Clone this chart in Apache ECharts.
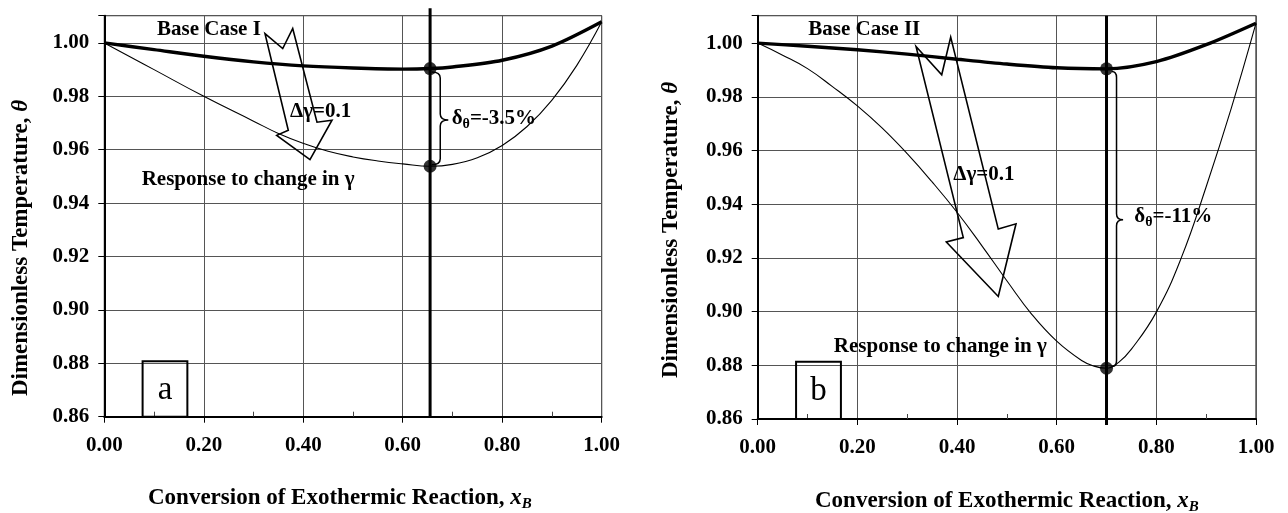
<!DOCTYPE html>
<html>
<head>
<meta charset="utf-8">
<script src="https://cdn.jsdelivr.net/npm/echarts@6/dist/echarts.min.js"></script>
<style>
  html, body { margin: 0; padding: 0; background: #fff; }
  #chart { width: 1288px; height: 513px; }
</style>
</head>
<body>
<div id="chart"></div>
<script>
// ---- data: conversion x_B versus dimensionless temperature theta ----
const baseCaseI = [[0, 1.0], [0.1, 0.9975], [0.2, 0.9950], [0.3, 0.9929], [0.4, 0.9914], [0.5, 0.9906],
  [0.6, 0.9902], [0.655, 0.9904], [0.7, 0.9910], [0.8, 0.9935], [0.9, 0.9988], [1.0, 1.0079]];
const responseI = [[0, 1.0], [0.1, 0.9900], [0.2, 0.9800], [0.3, 0.9707], [0.35, 0.9661], [0.4, 0.9624],
  [0.45, 0.9594], [0.5, 0.9573], [0.55, 0.9558], [0.6, 0.9547], [0.655, 0.9538], [0.7, 0.9545],
  [0.75, 0.9570], [0.8, 0.9616], [0.85, 0.9687], [0.9, 0.9786], [0.95, 0.9916], [1.0, 1.0079]];
const baseCaseII = [[0, 1.0], [0.1, 0.9988], [0.2, 0.9975], [0.3, 0.9959], [0.4, 0.9940], [0.5, 0.9922],
  [0.6, 0.9908], [0.7, 0.9904], [0.8, 0.9931], [0.9, 0.9994], [1.0, 1.0074]];
const responseII = [[0, 1.0], [0.05, 0.9955], [0.1, 0.9905], [0.15, 0.9838], [0.2, 0.9766], [0.25, 0.9683],
  [0.3, 0.9588], [0.35, 0.9483], [0.4, 0.9370], [0.45, 0.9245], [0.5, 0.9115], [0.55, 0.8990],
  [0.6, 0.8890], [0.65, 0.8818], [0.675, 0.8797], [0.7, 0.8789], [0.725, 0.8812], [0.75, 0.8860],
  [0.8, 0.8998], [0.85, 0.9200], [0.9, 0.9465], [0.95, 0.9755], [1.0, 1.0074]];

// operating conversion and the two temperatures marked on it
const operatingI = 0.655;
const markedI = [0.9904, 0.9538];
const operatingII = 0.70;
const markedII = [0.9904, 0.8789];

// axis ranges
const xRange = [0, 1];
const xStep = 0.2;
const yRange = [0.86, 1.0102];
const yStep = 0.02;

// ---- annotation geometry in data units ----
const arrowI = [[0.3231, 1.0035], [0.3587, 0.9979], [0.3788, 1.0054], [0.4276, 0.9703],
  [0.4578, 0.97105], [0.4135, 0.9563], [0.3466, 0.9654], [0.3699, 0.9673]];
const arrowII = [[0.3177, 0.99873], [0.3693, 0.98819], [0.3873, 1.00223], [0.4828, 0.93073],
  [0.5184, 0.93270], [0.4828, 0.90562], [0.3785, 0.92592], [0.4126, 0.92756]];

const FONT = '"Liberation Serif", "Times New Roman", serif';
const richSub = {
  s: { fontFamily: FONT, fontWeight: 'bold', fontSize: 14, padding: [12, 0, 0, 0], fill: '#000' }
};

const notesI = [
  { kind: 'text', at: [0.106, 1.0051], text: 'Base Case I', align: 'left' },
  { kind: 'arrow', pts: arrowI },
  { kind: 'text', at: [0.3733, 0.9744], text: 'Δγ=0.1', align: 'left' },
  { kind: 'brace', top: [0.6582, 0.9891], bottom: [0.6582, 0.9544], spine: 0.6754, tip: [0.6916, 0.9711] },
  { kind: 'text', at: [0.6984, 0.9718], text: 'δ{s|θ}=-3.5%', align: 'left' },
  { kind: 'text', at: [0.0752, 0.9490], text: 'Response to change in γ', align: 'left' },
  { kind: 'box', from: [0.077, 0.86], to: [0.167, 0.8808], label: 'a' }
];
const notesII = [
  { kind: 'text', at: [0.1015, 1.00495], text: 'Base Case II', align: 'left' },
  { kind: 'arrow', pts: arrowII },
  { kind: 'text', at: [0.3925, 0.95095], text: 'Δγ=0.1', align: 'left' },
  { kind: 'brace', top: [0.7104, 0.98942], bottom: [0.7104, 0.87955], spine: 0.7201, tip: [0.7333, 0.93425] },
  { kind: 'text', at: [0.7558, 0.93542], text: 'δ{s|θ}=-11%', align: 'left' },
  { kind: 'text', at: [0.58, 0.8870], text: 'Response to change in γ', align: 'right' },
  { kind: 'box', from: [0.077, 0.86], to: [0.167, 0.8813], label: 'b' }
];

function noteRenderer(notes) {
  return function (params, api) {
    const n = notes[params.dataIndex];
    if (n.kind === 'text') {
      const p = api.coord(n.at);
      return {
        type: 'text', x: p[0], y: p[1], z2: 10,
        style: {
          text: n.text, fill: '#000', fontFamily: FONT, fontWeight: 'bold', fontSize: 21,
          align: n.align, verticalAlign: 'middle', rich: richSub
        }
      };
    }
    if (n.kind === 'arrow') {
      return {
        type: 'polygon',
        shape: { points: n.pts.map(q => api.coord(q)) },
        style: { fill: 'none', stroke: '#000', lineWidth: 1.6, lineJoin: 'miter' }
      };
    }
    if (n.kind === 'brace') {
      const t = api.coord(n.top), b = api.coord(n.bottom), m = api.coord(n.tip);
      const x1 = api.coord([n.spine, n.tip[1]])[0];
      const r = 6;
      const d = `M${t[0]} ${t[1]} Q${x1} ${t[1]} ${x1} ${t[1] + r} L${x1} ${m[1] - r} ` +
        `Q${x1} ${m[1]} ${m[0]} ${m[1]} Q${x1} ${m[1]} ${x1} ${m[1] + r} L${x1} ${b[1] - r} ` +
        `Q${x1} ${b[1]} ${b[0]} ${b[1]}`;
      return { type: 'path', shape: { pathData: d }, style: { fill: 'none', stroke: '#000', lineWidth: 1.5 } };
    }
    if (n.kind === 'box') {
      const a = api.coord(n.from), c = api.coord(n.to);
      const x = Math.min(a[0], c[0]), y = Math.min(a[1], c[1]);
      const w = Math.abs(c[0] - a[0]), h = Math.abs(c[1] - a[1]);
      return {
        type: 'group',
        children: [
          { type: 'rect', shape: { x, y, width: w, height: h }, style: { fill: 'none', stroke: '#000', lineWidth: 2 } },
          {
            type: 'text', x: x + w / 2, y: y + h / 2 + 1,
            style: { text: n.label, fill: '#000', fontFamily: FONT, fontSize: 33, align: 'center', verticalAlign: 'middle' }
          }
        ]
      };
    }
    return null;
  };
}

function xAxisFor(gridIndex) {
  return {
    gridIndex, type: 'value', min: xRange[0], max: xRange[1], interval: xStep,
    axisLine: { lineStyle: { color: '#000', width: 2 } },
    axisTick: { show: true, length: 6, lineStyle: { color: '#000', width: 1 } },
    minorTick: { show: true, splitNumber: 2, length: -5, lineStyle: { color: '#444', width: 1 } },
    splitLine: { show: true, lineStyle: { color: '#555', width: 1 } },
    axisLabel: {
      formatter: v => v.toFixed(2), color: '#000', fontFamily: FONT, fontWeight: 'bold',
      fontSize: 21, margin: 18
    }
  };
}
function yAxisFor(gridIndex) {
  return {
    gridIndex, type: 'value', min: yRange[0], max: yRange[1], interval: yStep,
    axisLine: { show: true, lineStyle: { color: '#000', width: 2 } },
    axisTick: { show: true, length: 6, lineStyle: { color: '#000', width: 1 } },
    splitLine: { show: true, lineStyle: { color: '#555', width: 1 } },
    axisLabel: {
      formatter: v => {
        const k = v / yStep;
        return Math.abs(k - Math.round(k)) < 1e-6 ? v.toFixed(2) : '';
      },
      color: '#000', fontFamily: FONT, fontWeight: 'bold', fontSize: 21, margin: 15
    }
  };
}

function panelSeries(idx, base, resp, xOp, marked, lineSpan, notes) {
  return [
    {
      type: 'line', xAxisIndex: idx, yAxisIndex: idx, data: base, smooth: 0.3,
      showSymbol: false, symbol: 'none', z: 3, lineStyle: { color: '#000', width: 3.4 }
    },
    {
      type: 'line', xAxisIndex: idx, yAxisIndex: idx, data: resp, smooth: 0.45,
      showSymbol: false, symbol: 'none', z: 3, lineStyle: { color: '#000', width: 1.1 }
    },
    {
      type: 'line', xAxisIndex: idx, yAxisIndex: idx, clip: false,
      data: [[xOp, lineSpan[0]], [xOp, lineSpan[1]]],
      showSymbol: false, symbol: 'none', z: 4, lineStyle: { color: '#000', width: 3 }
    },
    {
      type: 'scatter', xAxisIndex: idx, yAxisIndex: idx, z: 5,
      data: marked.map(t => [xOp, t]), symbol: 'circle', symbolSize: 13,
      itemStyle: { color: '#000' }
    },
    {
      type: 'custom', xAxisIndex: idx, yAxisIndex: idx, z: 6, clip: false,
      data: notes.map(n => n.at || n.top || n.from || n.pts[0]),
      renderItem: noteRenderer(notes)
    }
  ];
}

const yTitle = 'Dimensionless Temperature, {i|θ}';
const xTitle = 'Conversion of Exothermic Reaction, {i|x}{b|B}';
const titleRich = {
  i: { fontFamily: FONT, fontWeight: 'bold', fontStyle: 'italic', fontSize: 23, fill: '#000' },
  b: { fontFamily: FONT, fontWeight: 'bold', fontStyle: 'italic', fontSize: 15, padding: [12, 0, 0, 0], fill: '#000' }
};
function titleText(text, x, y, rot, align) {
  return {
    type: 'text', x, y, rotation: rot,
    style: {
      text, fill: '#000', fontFamily: FONT, fontWeight: 'bold', fontSize: 23,
      align, verticalAlign: 'middle', rich: titleRich
    }
  };
}

const chart = echarts.init(document.getElementById('chart'), null, { renderer: 'canvas' });
chart.setOption({
  backgroundColor: '#fff',
  animation: false,
  grid: [
    { left: 104.3, top: 15.7, width: 497.4, height: 401, show: true, borderColor: '#000', borderWidth: 1, backgroundColor: 'transparent' },
    { left: 757.7, top: 15.7, width: 498.3, height: 403.3, show: true, borderColor: '#000', borderWidth: 1, backgroundColor: 'transparent' }
  ],
  xAxis: [xAxisFor(0), xAxisFor(1)],
  yAxis: [yAxisFor(0), yAxisFor(1)],
  series: [
    ...panelSeries(0, baseCaseI, responseI, operatingI, markedI, [0.86, 1.013], notesI),
    ...panelSeries(1, baseCaseII, responseII, operatingII, markedII, [0.8578, 1.0102], notesII)
  ],
  graphic: [
    titleText(yTitle, 21, 248, Math.PI / 2, 'center'),
    titleText(yTitle, 671, 230, Math.PI / 2, 'center'),
    titleText(xTitle, 148, 498, 0, 'left'),
    titleText(xTitle, 815, 501, 0, 'left')
  ]
});
</script>
</body>
</html>
